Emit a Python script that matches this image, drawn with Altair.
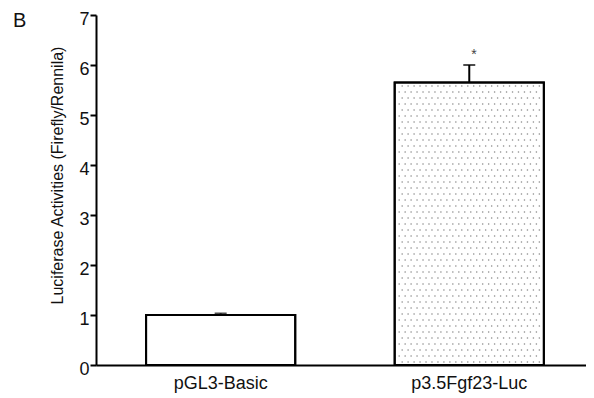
import altair as alt
import pandas as pd
import numpy as np

categories = ["pGL3-Basic", "p3.5Fgf23-Luc"]
means = [1.0, 5.65]
errors = [0.03, 0.35]
stars = ["", "*"]

df = pd.DataFrame({"group": categories, "mean": means, "err": errors, "star": stars})
df["top"] = df["mean"] + df["err"]

P_IN, P_OUT, ALIGN = 0.4, 0.1855, 0.543
span = 2 - P_IN + 2 * P_OUT  # band-scale range in step units

# dot texture for the second bar (step units along x)
bar2_start = 2 * P_OUT * ALIGN + 1.0
bar_w = 1 - P_IN
rows = []
ncols = 25
for i, yv in enumerate(np.arange(0.06, means[1] - 0.04, 0.12)):
    shift = 0.5 if i % 2 else 0.0
    for c in range(ncols):
        frac = (c + 0.25 + shift) / ncols
        if 0.02 < frac < 0.98:
            rows.append({"xu": bar2_start + frac * bar_w, "y": float(yv)})
dots = pd.DataFrame(rows)

xscale = alt.Scale(domain=categories, paddingInner=P_IN, paddingOuter=P_OUT, align=ALIGN)
yscale = alt.Scale(domain=[0, 7], nice=False)
FONT = "Liberation Sans"

base = alt.Chart(df)
xenc = alt.X("group:N", scale=xscale, sort=categories,
             axis=alt.Axis(title=None, labelAngle=0, ticks=False, domainColor="black",
                           domainWidth=2, labelFontSize=18, labelFont=FONT,
                           labelColor="#111", labelPadding=9, grid=False))
xnone = alt.X("group:N", scale=xscale, sort=categories, axis=None)

bars = base.mark_bar(fill="white", stroke="black", strokeWidth=2).encode(
    x=xenc,
    y=alt.Y("mean:Q", scale=yscale,
            axis=alt.Axis(title="Luciferase Activities (Firefly/Rennila)", values=list(range(8)),
                          grid=False, tickSize=6, tickWidth=2, tickColor="black",
                          domainColor="black", domainWidth=2, labelFontSize=18,
                          labelFont=FONT, labelColor="#111", titleFont=FONT,
                          titleFontSize=16, titleFontWeight="normal", titleColor="#111",
                          titlePadding=13, titleY=160, labelPadding=1, labelOffset=4)),
)
bars_outline = base.mark_bar(fill="transparent", stroke="black", strokeWidth=2).encode(
    x=xnone, y="mean:Q",
)

dotlayer = alt.Chart(dots).mark_circle(color="#8a8a8a", size=2.5, opacity=1).encode(
    x=alt.X("xu:Q", scale=alt.Scale(domain=[0, span], nice=False, zero=False), axis=None),
    y="y:Q",
)

err_rule = base.mark_rule(color="black", strokeWidth=2).encode(
    x=xnone, y="mean:Q", y2="top:Q",
)
err_cap = base.mark_tick(color="black", thickness=2, size=12, orient="horizontal").encode(
    x=xnone, y="top:Q",
)
star = base.mark_text(dy=-10, fontSize=14, font=FONT, color="#444").encode(
    x=xnone, y="top:Q", text="star:N",
)
label_b = alt.Chart(pd.DataFrame({"t": ["B"]})).mark_text(
    fontSize=20, font=FONT, color="#111", align="left", baseline="top"
).encode(x=alt.value(-83), y=alt.value(-4), text="t:N")

chart = alt.layer(bars, dotlayer, bars_outline, err_rule, err_cap, star, label_b).resolve_scale(
    x="independent"
).properties(
    width=490, height=350,
    padding={"left": 88, "top": 7, "right": 0, "bottom": 32},
    autosize=alt.AutoSizeParams(type="none"),
    background="white",
).configure_view(stroke="transparent", strokeWidth=0).configure_axis(grid=False)

chart.save("out.html", embed_options={"renderer": "svg", "actions": False})
